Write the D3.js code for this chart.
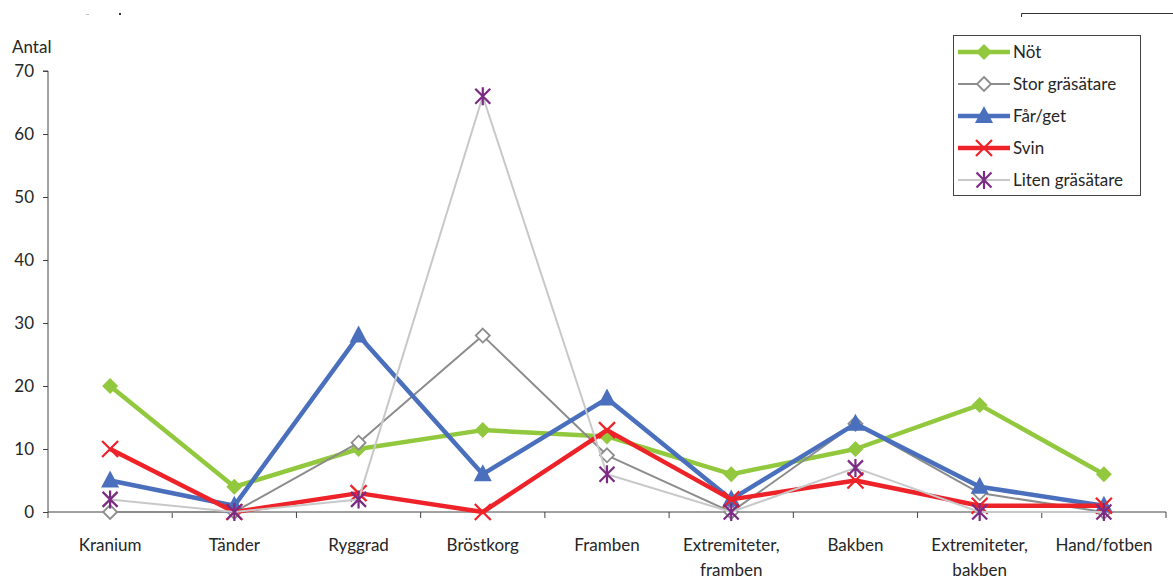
<!DOCTYPE html>
<html><head><meta charset="utf-8">
<script src="https://cdn.jsdelivr.net/npm/d3@7"></script>
<style>body{margin:0;background:#fff}svg{display:block}text{font-family:Lato,"Open Sans",sans-serif;fill:#262626}</style>
</head><body>
<svg id="c" width="1173" height="579"></svg>
<script>
const categories = ["Kranium","Tänder","Ryggrad","Bröstkorg","Framben","Extremiteter, framben","Bakben","Extremiteter, bakben","Hand/fotben"];
const categoryLines = [["Kranium"],["Tänder"],["Ryggrad"],["Bröstkorg"],["Framben"],["Extremiteter,","framben"],["Bakben"],["Extremiteter,","bakben"],["Hand/fotben"]];
const yTicks = [0,10,20,30,40,50,60,70];
const seriesNames = ["Nöt","Stor gräsätare","Får/get","Svin","Liten gräsätare"];
const notValues = [20,4,10,13,12,6,10,17,6];
const storValues = [0,0,11,28,9,0,14,3,0];
const farValues = [5,1,28,6,18,2,14,4,1];
const svinValues = [10,0,3,0,13,2,5,1,1];
const litenValues = [2,0,2,66,6,0,7,0,0];

const series = [
  {name:seriesNames[0], values:notValues, color:"#92c83e", width:4.5, marker:"diamond"},
  {name:seriesNames[1], values:storValues, color:"#8c8c8c", width:2, marker:"hollowDiamond"},
  {name:seriesNames[2], values:farValues, color:"#4a6fbd", width:4.5, marker:"triangle"},
  {name:seriesNames[3], values:svinValues, color:"#ee2229", width:4.5, marker:"x"},
  {name:seriesNames[4], values:litenValues, color:"#c8c8c8", width:2, marker:"star", markerColor:"#7b2b83"}
];

const svg = d3.select("#c");
const mLeft = 48, mRight = 1166, mTop = 71, mBottom = 512;
const x = d3.scaleBand().domain(categories).range([mLeft, mRight]).padding(0);
const y = d3.scaleLinear().domain([0,70]).range([mBottom, mTop]);
const cx = c => x(c) + x.bandwidth()/2;
const FS = "17px";

// decorative artifacts
svg.append("path").attr("d","M1021.5,17V13.5H1173").attr("fill","none").attr("stroke","#333").attr("stroke-width",1);
svg.append("rect").attr("x",86).attr("y",14).attr("width",3).attr("height",1).attr("fill","#bbb");
svg.append("rect").attr("x",119).attr("y",13).attr("width",2).attr("height",2).attr("fill","#333");

// y axis
const ya = svg.append("g").attr("transform",`translate(${mLeft},0)`)
  .call(d3.axisLeft(y).tickValues(yTicks).tickSize(5).tickPadding(9).tickFormat(d3.format("d")));
ya.select(".domain").attr("stroke","#444").attr("d",`M-5,${mTop}H0V${mBottom}`);
ya.selectAll(".tick line").attr("stroke","#444");
ya.selectAll(".tick text").style("font-size",FS).attr("fill","#262626");

svg.append("text").attr("x",12).attr("y",53).style("font-size",FS).text("Antal");

// x axis
const xa = svg.append("g").attr("transform",`translate(0,${mBottom})`)
  .call(d3.axisBottom(x).tickSize(0).tickFormat(""));
xa.select(".domain").attr("stroke","#444").attr("d",`M${mLeft},0H${mRight}`);
const bounds = categories.map(c => x(c)).concat([mRight]);
xa.selectAll(".bt").data(bounds).join("line").attr("class","bt")
  .attr("x1",d=>d).attr("x2",d=>d).attr("y1",0).attr("y2",6).attr("stroke","#444");
xa.selectAll(".tick").each(function(d,i){
  const t = d3.select(this).select("text").text(null).attr("y",39).attr("dy",null).style("font-size",FS).attr("fill","#262626");
  categoryLines[i].forEach((ln,j)=>{
    t.append("tspan").attr("x",0).attr("y",39 + j*25).text(ln);
  });
});

// markers
function drawMarker(g, type, px, py, col) {
  if (type==="diamond") {
    const sz = 8;
    g.append("path").attr("d",`M${px},${py-sz}L${px+sz},${py}L${px},${py+sz}L${px-sz},${py}Z`).attr("fill",col);
  } else if (type==="hollowDiamond") {
    const sz = 7;
    g.append("path").attr("d",`M${px},${py-sz}L${px+sz},${py}L${px},${py+sz}L${px-sz},${py}Z`).attr("fill","#fff").attr("stroke",col).attr("stroke-width",1.8);
  } else if (type==="triangle") {
    g.append("path").attr("d",`M${px},${py-10}L${px+9},${py+7}L${px-9},${py+7}Z`).attr("fill",col);
  } else if (type==="x") {
    const s = 8;
    g.append("path").attr("d",`M${px-s},${py-s}L${px+s},${py+s}M${px+s},${py-s}L${px-s},${py+s}`).attr("stroke",col).attr("stroke-width",2.2);
  } else if (type==="star") {
    const s = 7.5;
    g.append("path").attr("d",`M${px-s},${py-s}L${px+s},${py+s}M${px+s},${py-s}L${px-s},${py+s}M${px},${py-9}V${py+9}`).attr("stroke",col).attr("stroke-width",2.2);
  }
}

const line = d3.line().x((d,i)=>cx(categories[i])).y(d=>y(d));
const plot = svg.append("g");
series.forEach(s=>{
  const g = plot.append("g");
  g.append("path").datum(s.values).attr("d",line).attr("fill","none").attr("stroke",s.color).attr("stroke-width",s.width).attr("stroke-linejoin","round");
  s.values.forEach((v,i)=>drawMarker(g, s.marker, cx(categories[i]), y(v), s.markerColor || s.color));
});

// legend
const lg = svg.append("g");
lg.append("rect").attr("x",953.5).attr("y",35.5).attr("width",187).attr("height",160).attr("fill","#fff").attr("stroke","#444").attr("stroke-width",1);
series.forEach((s,i)=>{
  const ly = 52 + i*32;
  lg.append("line").attr("x1",958).attr("x2",1010).attr("y1",ly).attr("y2",ly).attr("stroke",s.color).attr("stroke-width",s.width);
  drawMarker(lg, s.marker, 984, ly, s.markerColor || s.color);
  lg.append("text").attr("x",1013).attr("y",ly+6).style("font-size",FS).text(s.name);
});
</script>
</body></html>
